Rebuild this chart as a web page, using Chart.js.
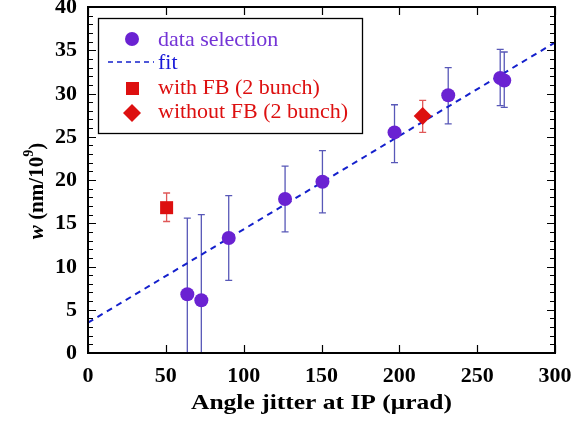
<!DOCTYPE html>
<html>
<head>
<meta charset="utf-8">
<script src="https://cdn.jsdelivr.net/npm/chart.js@4/dist/chart.umd.min.js"></script>
<style>
  html, body { margin: 0; padding: 0; background: #fff; }
  #wrap { width: 571px; height: 421px; }
</style>
</head>
<body>
<div id="wrap"><canvas id="c" width="571" height="421"></canvas></div>
<script>
// data selection points (angle jitter, w) with error bar ends
const selX  = [63.8, 72.8, 90.4, 126.6, 150.6, 196.9, 231.4, 264.8, 267.4];
const selY  = [6.8, 6.1, 13.3, 17.8, 19.8, 25.5, 29.8, 31.8, 31.5];
const selLo = [-2, -2, 8.4, 14.0, 16.2, 22.0, 26.5, 28.6, 28.4];
const selHi = [15.6, 16.0, 18.2, 21.6, 23.4, 28.7, 33.0, 35.1, 34.8];

// with FB (2 bunch)
const fbX  = [50.5];
const fbY  = [16.8];
const fbLo = [15.2];
const fbHi = [18.5];

// without FB (2 bunch)
const nofbX  = [215];
const nofbY  = [27.4];
const nofbLo = [25.5];
const nofbHi = [29.2];

// linear fit end points
const fitX = [0, 300];
const fitY = [3.5, 35.9];

const xTicks = [0, 50, 100, 150, 200, 250, 300];
const yTicks = [0, 5, 10, 15, 20, 25, 30, 35, 40];

const FONT = '"Liberation Serif", "Times New Roman", serif';
const PURPLE = '#6a22d2';
const RED = '#dd1010';
const BLUE = '#1420cc';

const pts = (xs, ys) => xs.map((x, i) => ({ x: x, y: ys[i] }));

const errorBars = {
  id: 'errorBars',
  beforeDatasetsDraw(chart) {
    const { ctx, chartArea, scales: { x, y } } = chart;
    ctx.save();
    ctx.beginPath();
    ctx.rect(chartArea.left, chartArea.top, chartArea.right - chartArea.left, chartArea.bottom - chartArea.top);
    ctx.clip();
    const draw = (xs, lo, hi, color) => {
      ctx.strokeStyle = color;
      ctx.lineWidth = 1.3;
      xs.forEach((xv, i) => {
        const px = x.getPixelForValue(xv);
        const p1 = y.getPixelForValue(lo[i]);
        const p2 = y.getPixelForValue(hi[i]);
        ctx.beginPath();
        ctx.moveTo(px, p1); ctx.lineTo(px, p2);
        ctx.moveTo(px - 3.5, p1); ctx.lineTo(px + 3.5, p1);
        ctx.moveTo(px - 3.5, p2); ctx.lineTo(px + 3.5, p2);
        ctx.stroke();
      });
    };
    draw(selX, selLo, selHi, '#5858b8');
    draw(fbX, fbLo, fbHi, '#e05858');
    draw(nofbX, nofbLo, nofbHi, '#e05858');
    ctx.restore();
  }
};

// stretched text helper (the original lettering is a little wide)
function wideText(ctx, text, x, y, sx, align) {
  ctx.save();
  ctx.translate(x, y);
  ctx.scale(sx, 1);
  ctx.textAlign = align;
  ctx.fillText(text, 0, 0);
  ctx.restore();
}

const frame = {
  id: 'frame',
  afterDraw(chart) {
    const { ctx, chartArea: a, scales: { x, y } } = chart;
    ctx.save();
    ctx.strokeStyle = '#000';
    // minor/major ticks on y (both sides)
    ctx.lineWidth = 1.2;
    for (let v = 0; v <= 40; v++) {
      const py = Math.round(y.getPixelForValue(v)) + 0.5;
      const len = v % 5 === 0 ? 8 : 5;
      ctx.beginPath();
      ctx.moveTo(a.left, py); ctx.lineTo(a.left + len, py);
      ctx.moveTo(a.right, py); ctx.lineTo(a.right - len, py);
      ctx.stroke();
    }
    x.ticks.forEach(t => {
      const px = Math.round(x.getPixelForValue(t.value)) + 0.5;
      ctx.beginPath();
      ctx.moveTo(px, a.bottom); ctx.lineTo(px, a.bottom - 8);
      ctx.moveTo(px, a.top); ctx.lineTo(px, a.top + 8);
      ctx.stroke();
    });
    ctx.lineWidth = 2;
    ctx.strokeRect(a.left, a.top, a.right - a.left, a.bottom - a.top);

    // tick labels
    ctx.fillStyle = '#000';
    ctx.font = 'bold 20px ' + FONT;
    ctx.textBaseline = 'middle';
    x.ticks.forEach(t => {
      wideText(ctx, String(t.value), x.getPixelForValue(t.value), a.bottom + 24, 1.1, 'center');
    });
    y.ticks.forEach(t => {
      wideText(ctx, String(t.value), a.left - 11, y.getPixelForValue(t.value) + 1, 1.1, 'right');
    });

    // x axis title
    ctx.font = 'bold 22px ' + FONT;
    ctx.textBaseline = 'alphabetic';
    wideText(ctx, 'Angle jitter at IP (\u03bcrad)', (a.left + a.right) / 2, 409, 1.16, 'center');

    // y axis title with superscript
    ctx.translate(36, (a.top + a.bottom) / 2 + 11);
    ctx.rotate(-Math.PI / 2);
    const parts = [
      { t: 'w', f: 'italic bold 21px ' + FONT, dy: 0 },
      { t: ' (nm/10', f: 'bold 21px ' + FONT, dy: 0 },
      { t: '9', f: 'bold 14px ' + FONT, dy: -10 },
      { t: ')', f: 'bold 21px ' + FONT, dy: 0 }
    ];
    let total = 0;
    parts.forEach(p => { ctx.font = p.f; p.w = ctx.measureText(p.t).width; total += p.w; });
    let cx = -total / 2;
    parts.forEach(p => {
      ctx.font = p.f;
      ctx.fillText(p.t, cx, 7 + p.dy);
      cx += p.w;
    });
    ctx.restore();

    // legend box
    ctx.save();
    ctx.fillStyle = '#fff';
    ctx.fillRect(98, 18, 264, 115);
    ctx.strokeStyle = '#000';
    ctx.lineWidth = 1.3;
    ctx.strokeRect(98.5, 18.5, 264, 115);
    ctx.font = '22px ' + FONT;
    ctx.textBaseline = 'middle';
    const tx = 158, mx = 132;
    const rows = [
      { label: 'data selection', color: '#7434d6', y: 40 },
      { label: 'fit', color: '#1a1ad8', y: 63 },
      { label: 'with FB (2 bunch)', color: RED, y: 88 },
      { label: 'without FB (2 bunch)', color: RED, y: 112 }
    ];
    rows.forEach(r => { ctx.fillStyle = r.color; ctx.fillText(r.label, tx, r.y); });
    ctx.fillStyle = PURPLE;
    ctx.beginPath(); ctx.arc(mx, 39, 7, 0, Math.PI * 2); ctx.fill();
    ctx.strokeStyle = BLUE; ctx.lineWidth = 1.5; ctx.setLineDash([5, 4]);
    ctx.beginPath(); ctx.moveTo(108, 62); ctx.lineTo(154, 62); ctx.stroke();
    ctx.setLineDash([]);
    ctx.fillStyle = RED;
    ctx.fillRect(mx - 6, 82, 13, 13);
    ctx.beginPath();
    ctx.moveTo(mx, 104); ctx.lineTo(mx + 9, 113); ctx.lineTo(mx, 122); ctx.lineTo(mx - 9, 113);
    ctx.closePath(); ctx.fill();
    ctx.restore();
  }
};

new Chart(document.getElementById('c'), {
  type: 'scatter',
  data: {
    datasets: [
      { label: 'data selection', data: pts(selX, selY), pointStyle: 'circle', pointRadius: 7,
        backgroundColor: PURPLE, borderWidth: 0, order: 1 },
      { label: 'with FB (2 bunch)', data: pts(fbX, fbY), pointStyle: 'rect', pointRadius: 9.2,
        backgroundColor: RED, borderWidth: 0, order: 1 },
      { label: 'without FB (2 bunch)', data: pts(nofbX, nofbY), pointStyle: 'rectRot', pointRadius: 9,
        backgroundColor: RED, borderWidth: 0, order: 1 },
      { label: 'fit', type: 'line', data: pts(fitX, fitY), showLine: true, pointRadius: 0,
        borderColor: BLUE, borderWidth: 2, borderDash: [6, 5], fill: false, order: 10 }
    ]
  },
  options: {
    responsive: false,
    animation: false,
    events: [],
    layout: { autoPadding: false, padding: { left: 0, right: 16, top: 7, bottom: 0 } },
    plugins: { legend: { display: false }, tooltip: { enabled: false } },
    scales: {
      x: {
        type: 'linear', min: 0, max: 300,
        afterBuildTicks: s => { s.ticks = xTicks.map(v => ({ value: v })); },
        afterFit: s => { s.height = 68; },
        grid: { display: false, drawTicks: false },
        border: { display: false },
        ticks: { display: false }
      },
      y: {
        type: 'linear', min: 0, max: 40,
        afterBuildTicks: s => { s.ticks = yTicks.map(v => ({ value: v })); },
        afterFit: s => { s.width = 88; },
        grid: { display: false, drawTicks: false },
        border: { display: false },
        ticks: { display: false }
      }
    }
  },
  plugins: [errorBars, frame]
});
</script>
</body>
</html>
